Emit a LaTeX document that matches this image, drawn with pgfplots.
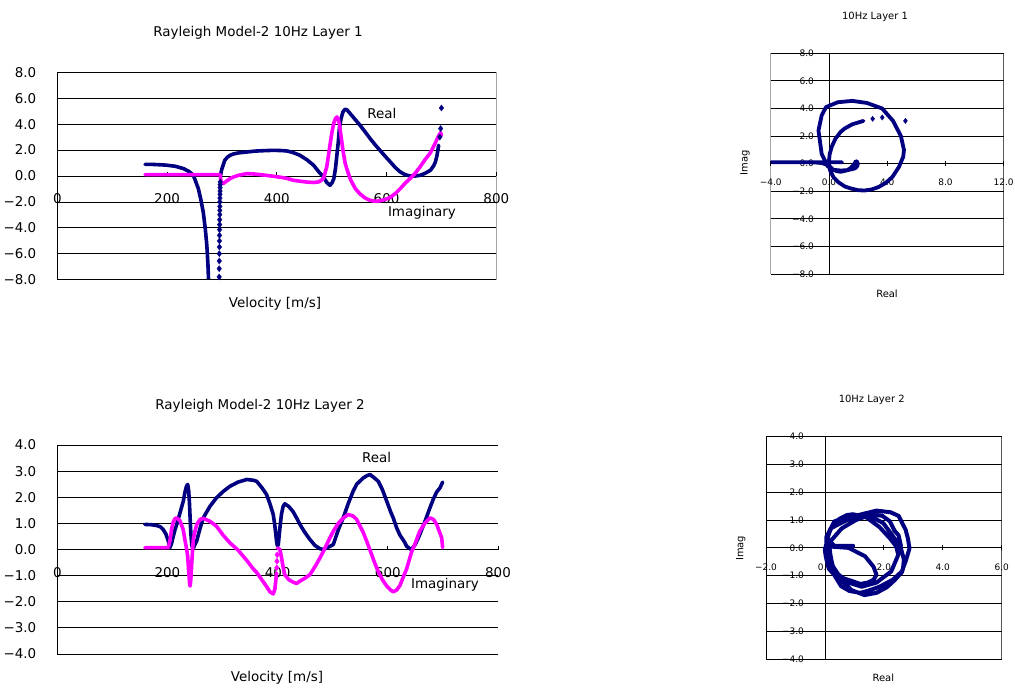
\documentclass[border=0pt]{standalone}
\usepackage{pgfplots}
\pgfplotsset{compat=1.18}
\usepackage{pgfplotstable}
\usepackage{fontspec}
\setmainfont{DejaVu Sans}
\definecolor{navyc}{RGB}{0,0,128}
\definecolor{magc}{RGB}{255,0,255}

% Layer 1: velocity, real part, imaginary part
\pgfplotstableread{
v re im
160 0.90 0.10
175 0.89 0.10
190 0.86 0.10
200 0.83 0.10
215 0.75 0.10
230 0.57 0.10
240 0.35 0.10
248 0.05 0.10
252 -0.40 0.10
257 -0.97 0.10
261.5 -1.80 0.10
266 -2.80 0.10
269.5 -4.00 0.10
272.5 -5.35 0.10
274.5 -6.80 0.10
276.5 -9.00 0.10
279 -14.0 0.10
286 -30.0 0.10
293 -12.0 0.10
294 -9.00 0.10
295.0 -7.79 0.10
295.1 -7.15 0.10
295.2 -6.56 0.10
295.3 -5.99 0.10
295.4 -5.48 0.10
295.5 -5.01 0.10
295.6 -4.58 0.10
295.7 -4.14 0.10
295.8 -3.75 0.10
295.9 -3.37 0.10
296.0 -2.98 0.10
296.1 -2.65 0.10
296.2 -2.34 0.10
296.3 -2.00 0.10
296.4 -1.70 0.10
296.5 -1.41 0.10
296.6 -1.16 0.09
296.7 -0.90 0.08
296.8 -0.67 0.06
296.9 -0.46 0.04
297.5 0.00 -0.15
298.5 0.30 -0.45
300 0.55 -0.55
302 0.80 -0.59
305 1.20 -0.50
310 1.45 -0.35
315 1.60 -0.20
321 1.70 -0.08
330 1.78 0.05
345 1.85 0.18
360 1.92 0.15
375 1.95 0.08
394 1.98 -0.02
410 1.96 -0.12
420 1.92 -0.20
430 1.80 -0.33
442 1.60 -0.40
455 1.25 -0.47
467 0.83 -0.50
477 0.30 -0.45
485 -0.07 -0.20
491 -0.50 0.70
497 -0.72 2.40
501 -0.50 3.50
504 -0.20 4.10
507 0.60 4.45
509.5 1.60 4.55
512 2.60 4.40
514 3.65 4.00
517 4.40 3.10
520.5 4.94 2.00
524.5 5.15 1.00
528 5.10 0.50
534 4.80 -0.25
543 4.35 -0.97
552 3.90 -1.40
561 3.40 -1.70
570 2.89 -1.88
579 2.42 -1.95
588 1.98 -1.92
598 1.50 -1.80
607 1.08 -1.65
616 0.65 -1.35
625 0.31 -0.98
634 0.10 -0.55
643 0.00 -0.20
652 0.00 0.20
661 0.05 0.70
670 0.20 1.25
680 0.44 1.80
686 0.80 2.30
689 1.08 2.55
692 1.60 2.85
695 2.37 3.10
697 3.00 3.25
698.5 3.66 3.35
700 5.25 3.10
}\layerone

% Layer 2: velocity, real part, imaginary part
\pgfplotstableread{
v re im
159 0.96 0.07
170 0.95 0.07
180 0.92 0.07
187 0.87 0.07
192 0.77 0.07
197 0.60 0.07
201.5 0.32 0.07
204.6 0.07 0.35
207.6 0.25 0.80
210.5 0.50 1.05
213.6 0.75 1.18
216.7 0.95 1.21
222.7 1.40 1.10
228.7 1.85 0.75
231.8 2.20 0.35
234.5 2.42 0.05
236.7 2.49 -0.25
238.5 2.25 -0.85
240 1.75 -1.25
241 1.25 -1.40
242 0.80 -1.25
243 0.45 -0.95
244 0.20 -0.55
245.5 0.05 -0.05
247 0.05 0.40
250 0.20 0.70
253 0.32 0.95
259 0.80 1.15
265 1.21 1.19
277 1.65 1.08
289 1.98 0.89
301 2.22 0.55
313.5 2.42 0.25
328 2.58 -0.02
344 2.68 -0.42
356 2.65 -0.75
362 2.61 -0.88
372 2.35 -1.18
380 2.10 -1.42
386 1.75 -1.62
392 1.34 -1.70
395 0.90 -1.52
398 0.32 -0.90
398.4 0.28 -0.70
398.8 0.22 -0.45
399.1 0.18 -0.20
399.5 0.15 0.05
401 0.15 0.05
404 0.80 0.00
407 1.36 -0.30
410 1.65 -0.68
413 1.75 -0.97
420 1.65 -1.15
428 1.45 -1.25
434.6 1.20 -1.30
440.5 0.96 -1.21
449.5 0.65 -1.10
458.7 0.38 -0.96
468 0.15 -0.65
476.9 0.03 -0.32
483 0.00 -0.07
488 0.05 0.15
495 0.12 0.45
501 0.19 0.70
510 0.75 1.00
519 1.21 1.20
528 1.75 1.34
537 2.23 1.28
543.5 2.50 1.15
555.4 2.74 0.65
561.6 2.82 0.32
567.6 2.87 -0.02
575 2.75 -0.45
582.7 2.61 -0.85
590 2.30 -1.15
598 1.85 -1.40
605 1.45 -1.55
610 1.20 -1.62
616 0.83 -1.55
622 0.55 -1.38
630 0.30 -0.95
634 0.13 -0.75
640 0.03 -0.32
643 0.00 -0.10
650 0.20 0.25
658 0.57 0.70
667 1.05 1.00
676.5 1.60 1.21
683 1.95 1.15
688.7 2.20 0.96
694.7 2.36 0.62
697.8 2.50 0.45
699.5 2.58 0.07
}\layertwo

\tikzset{
  bigfont/.style={font=\fontsize{13.5}{16}\selectfont},
  smallfont/.style={font=\fontsize{9}{11}\selectfont},
  lblfont/.style={font=\fontsize{10}{12}\selectfont},
  curve/.style={line width=3.6bp, line join=round, line cap=round},
  dots/.style={only marks, mark=diamond*, mark size=3bp},
}

\pgfplotsset{
  excel/.style={
    scale only axis, anchor=south west,
    ymajorgrids, major grid style={line width=0.8bp, black},
    /pgf/number format/assume math mode=true,
    hide obscured x ticks=false, hide obscured y ticks=false,
    tick style={black, line width=0.8bp},
  },
  noarrows/.style={
    axis line style={-, line width=0.8bp, black},
    every inner x axis line/.append style={-},
    every inner y axis line/.append style={-},
    every outer x axis line/.append style={-},
    every outer y axis line/.append style={-},
  },
  leftplot/.style={excel,
    axis x line=middle, axis y line=left, noarrows, clip=true,
    xmin=0, xmax=800,
    xtick={0,200,400,600,800}, xticklabels={0,200,400,600,800},
    ticklabel style={bigfont},
    xticklabel style={anchor=north, yshift=-14bp},
    yticklabel style={anchor=east, xshift=-15.5bp},
    ytick style={draw=none},
    xtick align=inside, major tick length=4bp,
  },
  rightplot/.style={excel,
    axis lines=middle, noarrows, clip=true,
    ticklabel style={smallfont},
    xticklabel style={anchor=north, yshift=-9.5bp},
    yticklabel style={anchor=east, xshift=-9bp},
    tick align=center, major tick length=5bp,
  },
}

\begin{document}
\begin{tikzpicture}[x=1bp, y=1bp]
\useasboundingbox (0bp,0bp) rectangle (1015bp,691bp);

% ---------- Top left: Layer 1 vs velocity ----------
\begin{axis}[leftplot, at={(57.3bp,411.3bp)}, width=439bp, height=207.4bp,
  ymin=-8, ymax=8,
  ytick={-8,-6,-4,-2,0,2,4,6,8},
  yticklabels={−8.0,−6.0,−4.0,−2.0,0.0,2.0,4.0,6.0,8.0}]
  \addplot[curve, navyc, no markers, unbounded coords=jump] table[x=v,
    y expr={((\thisrow{v}>294.5 && \thisrow{v}<297.2) || \thisrow{v}>695.5) ? nan : \thisrow{re}}]{\layerone};
  \addplot[dots, navyc] table[x=v,
    y expr={((\thisrow{v}>294.5 && \thisrow{v}<297.2) || \thisrow{v}>695.5) ? \thisrow{re} : nan}]{\layerone};
  \addplot[curve, magc, no markers] table[x=v, y=im]{\layerone};
  \node[bigfont] at (axis cs:591.5,4.86) {Real};
  \node[bigfont] at (axis cs:664.5,-2.82) {Imaginary};
  \draw[line width=0.8bp] (rel axis cs:0,0) rectangle (rel axis cs:1,1);
\end{axis}
\node[bigfont] at (258bp,658.3bp) {Rayleigh Model-2 10Hz Layer 1};
\node[bigfont] at (275bp,387bp) {Velocity [m/s]};

% ---------- Top right: Layer 1 complex plane ----------
\begin{axis}[rightplot, at={(770.7bp,417bp)}, width=233bp, height=220.7bp,
  xmin=-4, xmax=12, ymin=-8, ymax=8,
  xtick={-4,0,4,8,12}, xticklabels={−4.0,0.0,4.0,8.0,12.0},
  ytick={-8,-6,-4,-2,0,2,4,6,8},
  yticklabels={−8.0,−6.0,−4.0,−2.0,0.0,2.0,4.0,6.0,8.0}]
  \addplot[curve, navyc, no markers, line width=3.8bp, unbounded coords=jump] table[
    x expr={\thisrow{v}>695.5 ? nan : \thisrow{re}}, y=im]{\layerone};
  \addplot[dots, navyc, mark size=2.6bp] table[
    x expr={\thisrow{v}>695.5 ? \thisrow{re} : nan}, y=im]{\layerone};
  \draw[line width=0.8bp] (rel axis cs:0,0) rectangle (rel axis cs:1,1);
\end{axis}
\node[lblfont] at (875bp,674bp) {10Hz Layer 1};
\node[lblfont] at (887bp,397bp) {Real};
\node[lblfont, rotate=90] at (745bp,528bp) {Imag};

% ---------- Bottom left: Layer 2 vs velocity ----------
\begin{axis}[leftplot, at={(57.3bp,37bp)}, width=440.7bp, height=209bp,
  ymin=-4, ymax=4,
  ytick={-4,-3,-2,-1,0,1,2,3,4},
  yticklabels={−4.0,−3.0,−2.0,−1.0,0.0,1.0,2.0,3.0,4.0}]
  \addplot[curve, navyc, no markers] table[x=v, y=re]{\layertwo};
  \addplot[curve, magc, no markers, unbounded coords=jump] table[x=v,
    y expr={(\thisrow{v}>398.2 && \thisrow{v}<399.4) ? nan : \thisrow{im}}]{\layertwo};
  \addplot[dots, magc] table[x=v,
    y expr={(\thisrow{v}>398.2 && \thisrow{v}<399.4) ? \thisrow{im} : nan}]{\layertwo};
  \node[bigfont] at (axis cs:579.8,3.51) {Real};
  \node[bigfont] at (axis cs:703.8,-1.34) {Imaginary};
  \draw[line width=0.8bp] (rel axis cs:0,0) rectangle (rel axis cs:1,1);
\end{axis}
\node[bigfont] at (260bp,285.3bp) {Rayleigh Model-2 10Hz Layer 2};
\node[bigfont] at (277bp,13bp) {Velocity [m/s]};

% ---------- Bottom right: Layer 2 complex plane ----------
\begin{axis}[rightplot, at={(766bp,32bp)}, width=235.7bp, height=222.3bp,
  xmin=-2, xmax=6, ymin=-4, ymax=4,
  xtick={-2,0,2,4,6}, xticklabels={−2.0,0.0,2.0,4.0,6.0},
  ytick={-4,-3,-2,-1,0,1,2,3,4},
  yticklabels={−4.0,−3.0,−2.0,−1.0,0.0,1.0,2.0,3.0,4.0},
  yticklabel style={anchor=east, xshift=-6bp}]
  \addplot[curve, navyc, no markers, line width=4bp] table[x=re, y=im]{\layertwo};
  \draw[line width=0.8bp] (rel axis cs:0,0) rectangle (rel axis cs:1,1);
\end{axis}
\node[lblfont] at (871.7bp,291bp) {10Hz Layer 2};
\node[lblfont] at (883.3bp,13bp) {Real};
\node[lblfont, rotate=90] at (740.7bp,142.7bp) {Imag};
\end{tikzpicture}
\end{document}
